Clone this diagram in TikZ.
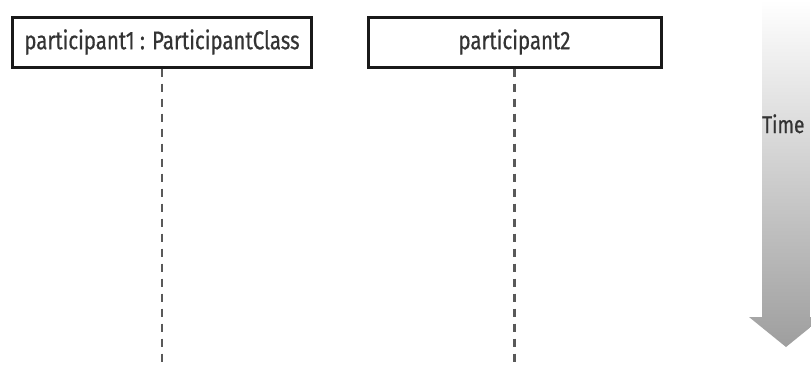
\documentclass[tikz,border=0pt]{standalone}
\usepackage{fontspec}
\setmainfont{Fira Sans}[FakeStretch=0.8, FakeBold=0.6]
\begin{document}
\begin{tikzpicture}[x=1pt,y=-1pt,
  lifebox/.style={draw=black!90, line width=3pt, minimum width=#1,
    minimum height=50pt, inner sep=0pt,
    font=\fontsize{25.5}{28}\selectfont, text=black!80},
  lifeline/.style={draw=black!65, line width=2.2pt, dash pattern=on 8pt off 7pt},
  timelabel/.style={font=\fontsize{24}{28}\selectfont, text=black!80, inner sep=0pt}]
\useasboundingbox (0,0) rectangle (811,365);
\fill[white] (0,0) rectangle (811,365);
\clip (0,0) rectangle (811,365);

% time arrow, fading in from the top
\shade[top color=white, bottom color=black!38]
  (762,0) -- (810,0) -- (810,317) -- (823,317) -- (786,347)
  -- (749,317) -- (762,317) -- cycle;
\node[timelabel, anchor=base west] (time) at (762,133) {Time};

% participants and their lifelines
\node[lifebox=299pt] (p1) at (162,42) {participant1 : ParticipantClass};
\node[lifebox=293pt] (p2) at (514.5,42) {participant2};
\coordinate (e1) at (162,365);
\coordinate (e2) at (514.5,365);
\draw[lifeline] (p1.south) -- (e1);
\draw[lifeline] (p2.south) -- (e2);
\end{tikzpicture}
\end{document}
